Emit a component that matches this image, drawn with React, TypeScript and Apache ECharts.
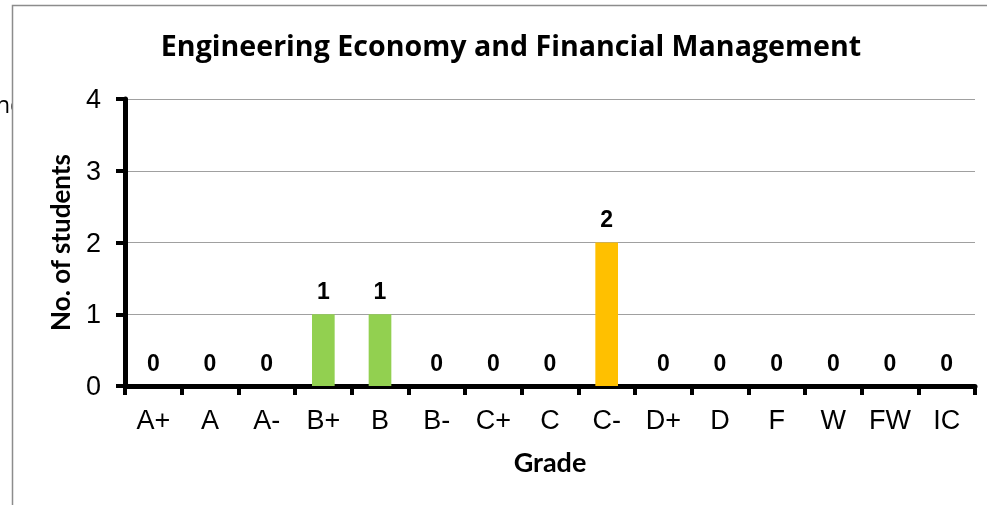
import React, { useEffect, useRef } from "react";
import * as echarts from "echarts";

const grades = ["A+", "A", "A-", "B+", "B", "B-", "C+", "C", "C-", "D+", "D", "F", "W", "FW", "IC"];
const students = [0, 0, 0, 1, 1, 0, 0, 0, 2, 0, 0, 0, 0, 0, 0];
const barColors = ["#92D050", "#92D050", "#92D050", "#92D050", "#92D050", "#92D050", "#92D050", "#92D050", "#FFC000", "#92D050", "#92D050", "#92D050", "#92D050", "#92D050", "#92D050"];
const yTicks = [0, 1, 2, 3, 4];

export default function App() {
  const ref = useRef<HTMLDivElement>(null);
  useEffect(() => {
    if (!ref.current) return;
    const chart = echarts.init(ref.current, null, { renderer: "svg" });
    chart.setOption({
      animation: false,
      title: {
        text: "Engineering Economy and Financial Management",
        left: 506,
        top: 25,
        textAlign: "center",
        textStyle: { fontFamily: "Open Sans", fontWeight: "bold", fontSize: 28.6, color: "#000" },
      },
      graphic: [
        { type: "text", z: -10, left: -4, top: 92, style: { text: "ne", font: "23px 'Open Sans'", fill: "#000" } },
        { type: "rect", z: -5, shape: { x: 12.5, y: 5.5, width: 1000, height: 600 }, style: { fill: "#fff", stroke: "#8c8c8c", lineWidth: 1.5 } },
      ],
      grid: { left: 125, right: 12, top: 99, bottom: 119, containLabel: false },
      xAxis: {
        type: "category",
        data: grades,
        name: "Grade",
        nameLocation: "middle",
        nameGap: 62,
        nameTextStyle: { fontFamily: "Lato", fontWeight: "bold", fontSize: 27, color: "#000" },
        axisLine: { lineStyle: { color: "#000", width: 5 } },
        axisTick: { show: true, length: 9, lineStyle: { color: "#000", width: 4 } },
        axisLabel: { margin: 20, fontFamily: "Liberation Sans", fontSize: 27, color: "#000" },
      },
      yAxis: {
        type: "value",
        min: 0,
        max: yTicks[yTicks.length - 1],
        interval: 1,
        name: "No. of students",
        nameLocation: "middle",
        nameGap: 52,
        nameTextStyle: { fontFamily: "Lato", fontWeight: "bold", fontSize: 26, color: "#000" },
        axisLine: { show: true, lineStyle: { color: "#000", width: 5 } },
        axisTick: { show: true, length: 9, lineStyle: { color: "#000", width: 4 } },
        axisLabel: { margin: 24, fontFamily: "Liberation Sans", fontSize: 27, color: "#000" },
        splitLine: { show: true, lineStyle: { color: "#a0a0a0", width: 1.2 } },
      },
      series: [
        {
          type: "bar",
          data: students.map((v, i) => ({ value: v, itemStyle: { color: barColors[i] } })),
          barWidth: "40%",
          label: {
            show: true,
            position: "top",
            distance: 12,
            fontFamily: "Liberation Sans",
            fontWeight: "bold",
            fontSize: 23,
            color: "#000",
          },
        },
      ],
    });
    return () => chart.dispose();
  }, []);
  return <div ref={ref} style={{ width: 987, height: 505, position: "fixed", left: 0, top: 0 }} />;
}
